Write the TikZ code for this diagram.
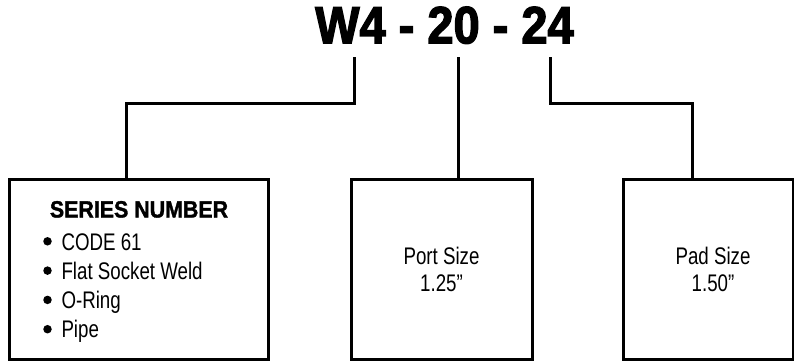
\documentclass[tikz,border=0pt]{standalone}
\usepackage{fontspec}
\usepackage{tikz}
\newfontfamily\condfont{Liberation Sans}[FakeStretch=0.78]
\newfontfamily\headfont{Liberation Sans Bold}[FakeStretch=0.91,FakeBold=1.5]
\newfontfamily\blackfont{Liberation Sans Bold}[FakeStretch=0.895,FakeBold=2.5]

\begin{document}
\begin{tikzpicture}[x=1pt,y=-1pt,line width=3pt,
  box/.style={draw,rectangle,minimum height=180.5pt,inner sep=0pt},
  txt/.style={inner sep=0pt,font=\condfont\fontsize{24}{27}\selectfont},
  dot/.style={circle,fill,inner sep=0pt,minimum size=8.5pt,draw=none}]

\useasboundingbox (0,0) rectangle (794,362);

% part number
\node[anchor=base,inner sep=0pt,font=\blackfont\fontsize{52.5}{52}\selectfont] (code) at (444.5,43.3) {W4 - 20 - 24};
\coordinate (w4) at (354,57);
\coordinate (n20) at (458,57);
\coordinate (n24) at (550.7,57);

% boxes
\node[box,minimum width=259.5pt] (series) at (138.75,269.25) {};
\node[box,minimum width=181pt] (port) at (441.5,269.25) {};
\node[box,minimum width=169.7pt] (pad) at (708.15,269.25) {};

% series box text
\node[anchor=base,inner sep=0pt,font=\headfont\fontsize{23.5}{23}\selectfont] (head) at (139,217.5) {SERIES NUMBER};
\foreach \t [count=\i from 0] in {CODE 61,Flat Socket Weld,O-Ring,Pipe}
{
  \node[dot] (bul\i) at (47.5,241.3+29.3*\i) {};
  \node[txt,anchor=base west] (item\i) at (60,250+29.3*\i) {\t};
}

\node[txt,align=center] (portsize) at (441.5,269) {Port Size\\1.25”};
\node[txt,align=center] (padsize) at (713,269) {Pad Size\\1.50”};

% connectors
\draw (w4) -- ++(0,46.3) -| ([xshift=-12.45pt]series.north);
\draw (n20) -- (n20 |- port.north);
\draw (n24) -- ++(0,46.3) -| ([xshift=-15.45pt]pad.north);
\end{tikzpicture}
\end{document}
